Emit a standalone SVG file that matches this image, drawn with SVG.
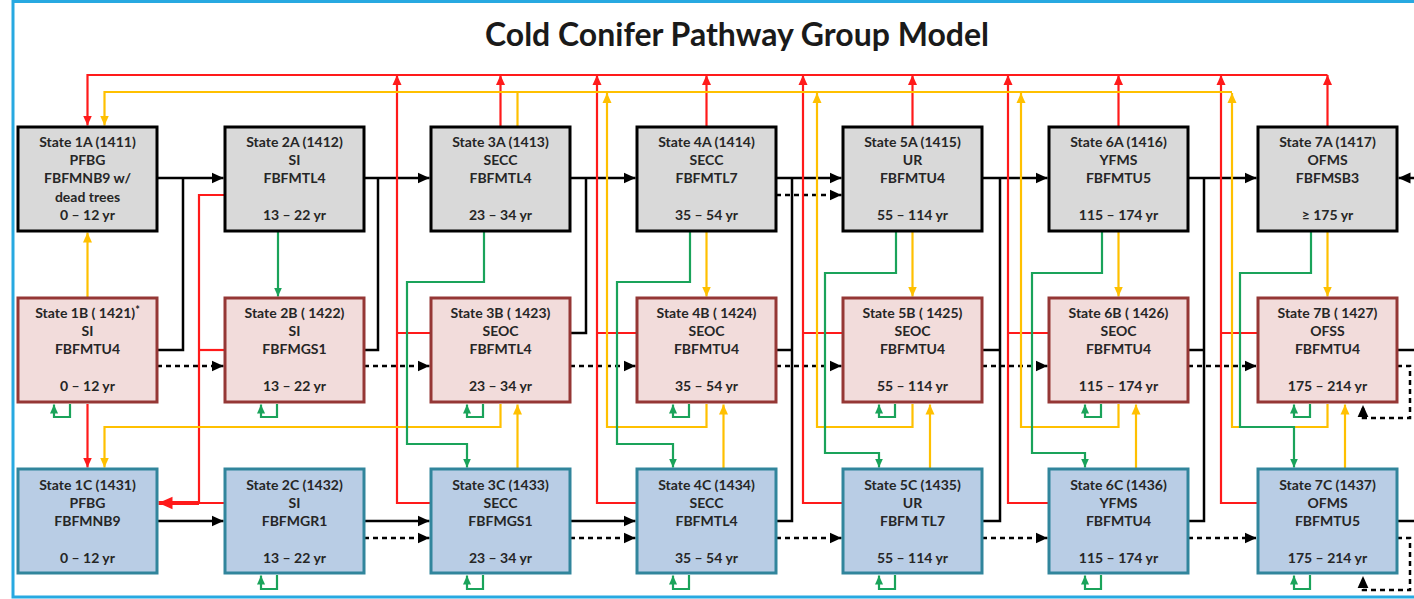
<svg xmlns="http://www.w3.org/2000/svg" width="1414" height="599" viewBox="0 0 1414 599">
  <style>
    .title { font-family: Lato, "Liberation Sans", sans-serif; font-weight: 700; font-size: 32px; fill: #1a1a1a; text-anchor: middle; }
    .t { font-family: Lato, "Liberation Sans", sans-serif; font-weight: 700; font-size: 14px; fill: #262626; text-anchor: middle; }
    .sup { font-size: 11px; }
    .boxA rect { fill: #d9d9d9; stroke: #000000; stroke-width: 3; }
    .boxB rect { fill: #f2dcdb; stroke: #953735; stroke-width: 3; }
    .boxC rect { fill: #b9cde5; stroke: #31859c; stroke-width: 3; }
    #connectors path { fill: none; stroke-linejoin: miter; }
    .k { stroke: #000000; stroke-width: 2.5; }
    .kd { stroke: #000000; stroke-width: 2.5; stroke-dasharray: 5 4; }
    .r { stroke: #ff1a1a; stroke-width: 2.2; }
    .rb { stroke: #ff1a1a; stroke-width: 4; }
    .y { stroke: #ffc000; stroke-width: 2.2; }
    .g { stroke: #1aa35a; stroke-width: 2.2; }
    .ak { marker-end: url(#ah-k); }
    .ar { marker-end: url(#ah-r); }
    .arb { marker-end: url(#ah-rb); }
    .ay { marker-end: url(#ah-y); }
    .ag { marker-end: url(#ah-g); }
  </style>
  <defs>
    <marker id="ah-k" viewBox="0 0 10 10" refX="10" refY="5" markerWidth="12" markerHeight="12" orient="auto" markerUnits="userSpaceOnUse">
      <path d="M0,0.5 L10,5 L0,9.5 z" fill="#000000"/>
    </marker>
    <marker id="ah-r" viewBox="0 0 10 10" refX="10" refY="5" markerWidth="10" markerHeight="10" orient="auto" markerUnits="userSpaceOnUse">
      <path d="M0,0.5 L10,5 L0,9.5 z" fill="#ff1a1a"/>
    </marker>
    <marker id="ah-rb" viewBox="0 0 10 10" refX="10" refY="5" markerWidth="14" markerHeight="14" orient="auto" markerUnits="userSpaceOnUse">
      <path d="M0,0.5 L10,5 L0,9.5 z" fill="#ff1a1a"/>
    </marker>
    <marker id="ah-y" viewBox="0 0 10 10" refX="10" refY="5" markerWidth="10" markerHeight="10" orient="auto" markerUnits="userSpaceOnUse">
      <path d="M0,0.5 L10,5 L0,9.5 z" fill="#ffc000"/>
    </marker>
    <marker id="ah-g" viewBox="0 0 10 10" refX="10" refY="5" markerWidth="9" markerHeight="9" orient="auto" markerUnits="userSpaceOnUse">
      <path d="M0,0.5 L10,5 L0,9.5 z" fill="#1aa35a"/>
    </marker>
  </defs>

  <rect x="0" y="0" width="1414" height="599" fill="#ffffff"/>
  <!-- outer frame -->
  <rect x="13" y="1.5" width="1420" height="595.5" fill="none" stroke="#27a9e1" stroke-width="3"/>

  <text class="title" x="737" y="46">Cold Conifer Pathway Group Model</text>

  <g id="connectors">
    <!-- succession: solid black -->
    <path class="k ak" d="M157,178 H223.5"/>
    <path class="k ak" d="M364,178 H429.5"/>
    <path class="k ak" d="M570,178 H635.5"/>
    <path class="k ak" d="M776,178 H841.5"/>
    <path class="k ak" d="M982,178 H1047.5"/>
    <path class="k ak" d="M1188,178 H1256.5"/>
    <path class="k ak" d="M1414,178 H1398.5"/>
    <path class="k" d="M157,350 H183 V178"/>
    <path class="k" d="M364,350 H378 V178"/>
    <path class="k" d="M570,333 H586 V178"/>
    <path class="k" d="M776,350 H792"/>
    <path class="k" d="M776,521 H792 V178"/>
    <path class="k" d="M982,350 H1000"/>
    <path class="k" d="M982,521 H1000 V178"/>
    <path class="k" d="M1188,350 H1204"/>
    <path class="k" d="M1188,521 H1204 V178"/>
    <path class="k" d="M1397,350 H1414"/>
    <path class="k" d="M1397,521 H1414"/>
    <path class="k ak" d="M157,521 H223.5"/>
    <path class="k ak" d="M364,521 H429.5"/>
    <path class="k ak" d="M570,521 H635.5"/>

    <!-- succession: dashed black -->
    <path class="kd ak" d="M776,195 H841.5"/>
    <path class="kd ak" d="M157,366 H223.5"/>
    <path class="kd ak" d="M364,366 H429.5"/>
    <path class="kd ak" d="M570,366 H635.5"/>
    <path class="kd ak" d="M776,366 H841.5"/>
    <path class="kd ak" d="M982,366 H1047.5"/>
    <path class="kd ak" d="M1188,366 H1256.5"/>
    <path class="kd ak" d="M1397,366 H1410 V418 H1363 V405"/>
    <path class="kd ak" d="M364,538 H429.5"/>
    <path class="kd ak" d="M570,538 H635.5"/>
    <path class="kd ak" d="M776,538 H841.5"/>
    <path class="kd ak" d="M982,538 H1047.5"/>
    <path class="kd ak" d="M1188,538 H1256.5"/>
    <path class="kd ak" d="M1397,538 H1410 V590 H1363 V576"/>

    <!-- red: bus to State 1A -->
    <path class="r ar" d="M1327.5,75 H87.5 V125.5"/>
    <path class="r ar" d="M500.5,127 V75"/>
    <path class="r ar" d="M706.5,127 V75"/>
    <path class="r ar" d="M912.5,127 V75"/>
    <path class="r ar" d="M1118.5,127 V75"/>
    <path class="r ar" d="M1327.5,127 V75"/>
    <path class="r ar" d="M431,503 H397 V75"/>
    <path class="r" d="M431,333 H397"/>
    <path class="r ar" d="M637,503 H597 V75"/>
    <path class="r" d="M637,333 H597"/>
    <path class="r ar" d="M843,503 H803 V75"/>
    <path class="r" d="M843,333 H803"/>
    <path class="r ar" d="M1049,503 H1008 V75"/>
    <path class="r" d="M1049,333 H1008"/>
    <path class="r ar" d="M1258,503 H1221 V75"/>
    <path class="r" d="M1258,333 H1221"/>
    <!-- red: column 2 and 1B to State 1C -->
    <path class="r" d="M225,195 H199 V503 H225"/>
    <path class="r" d="M225,350 H199"/>
    <path class="rb arb" d="M199,503 H158.5"/>
    <path class="r ar" d="M87.5,404 V467.5"/>

    <!-- yellow -->
    <path class="y ay" d="M1232,92 H104.5 V125.5"/>
    <path class="y" d="M517.5,127 V92"/>
    <path class="y ay" d="M706.5,404 V427 H607 V93"/>
    <path class="y ay" d="M912.5,404 V427 H817 V93"/>
    <path class="y ay" d="M1118.5,404 V427 H1021 V93"/>
    <path class="y ay" d="M1327.5,404 V427 H1232 V93"/>
    <path class="y ay" d="M500.5,404 V427 H104.5 V467.5"/>
    <path class="y ay" d="M87.5,298 V232.5"/>
    <path class="y ay" d="M706.5,231 V296.5"/>
    <path class="y ay" d="M912.5,231 V296.5"/>
    <path class="y ay" d="M1118.5,231 V296.5"/>
    <path class="y ay" d="M1327.5,231 V296.5"/>
    <path class="y ay" d="M517.5,469 V404.5"/>
    <path class="y ay" d="M723.5,469 V404.5"/>
    <path class="y ay" d="M930,469 V404.5"/>
    <path class="y ay" d="M1136,469 V404.5"/>
    <path class="y ay" d="M1345,469 V404.5"/>

    <!-- green -->
    <path class="g ag" d="M278,231 V296.5"/>
    <path class="g ag" d="M484,231 V282 H407 V444 H467 V467.5"/>
    <path class="g ag" d="M690,231 V282 H617 V444 H673 V467.5"/>
    <path class="g ag" d="M896,231 V273 H825 V453 H879 V467.5"/>
    <path class="g ag" d="M1102,231 V273 H1032 V453 H1085 V467.5"/>
    <path class="g ag" d="M1311,231 V273 H1240 V427 H1294 V467.5"/>
    <!-- green self-loops -->
    <path class="g ag" d="M70,404 V417 H54 V404.5"/>
    <path class="g ag" d="M277,404 V417 H261 V404.5"/>
    <path class="g ag" d="M483,404 V417 H467 V404.5"/>
    <path class="g ag" d="M689,404 V417 H673 V404.5"/>
    <path class="g ag" d="M895,404 V417 H879 V404.5"/>
    <path class="g ag" d="M1101,404 V417 H1085 V404.5"/>
    <path class="g ag" d="M1310,404 V417 H1294 V404.5"/>
    <path class="g ag" d="M277,575 V589 H261 V575.5"/>
    <path class="g ag" d="M483,575 V589 H467 V575.5"/>
    <path class="g ag" d="M689,575 V589 H673 V575.5"/>
    <path class="g ag" d="M895,575 V589 H879 V575.5"/>
    <path class="g ag" d="M1101,575 V589 H1085 V575.5"/>
    <path class="g ag" d="M1310,575 V589 H1294 V575.5"/>
  </g>

  <!-- row A -->
  <g id="s1A" class="boxA"><rect x="18" y="127" width="139" height="104"/>
    <text class="t" x="87.5" y="147">State 1A (1411)</text><text class="t" x="87.5" y="165">PFBG</text><text class="t" x="87.5" y="183">FBFMNB9 w/</text><text class="t" x="87.5" y="202">dead trees</text><text class="t" x="87.5" y="220">0 – 12 yr</text></g>
  <g id="s2A" class="boxA"><rect x="225" y="127" width="139" height="104"/>
    <text class="t" x="294.5" y="147">State 2A (1412)</text><text class="t" x="294.5" y="165">SI</text><text class="t" x="294.5" y="183">FBFMTL4</text><text class="t" x="294.5" y="220">13 – 22 yr</text></g>
  <g id="s3A" class="boxA"><rect x="431" y="127" width="139" height="104"/>
    <text class="t" x="500.5" y="147">State 3A (1413)</text><text class="t" x="500.5" y="165">SECC</text><text class="t" x="500.5" y="183">FBFMTL4</text><text class="t" x="500.5" y="220">23 – 34 yr</text></g>
  <g id="s4A" class="boxA"><rect x="637" y="127" width="139" height="104"/>
    <text class="t" x="706.5" y="147">State 4A (1414)</text><text class="t" x="706.5" y="165">SECC</text><text class="t" x="706.5" y="183">FBFMTL7</text><text class="t" x="706.5" y="220">35 – 54 yr</text></g>
  <g id="s5A" class="boxA"><rect x="843" y="127" width="139" height="104"/>
    <text class="t" x="912.5" y="147">State 5A (1415)</text><text class="t" x="912.5" y="165">UR</text><text class="t" x="912.5" y="183">FBFMTU4</text><text class="t" x="912.5" y="220">55 – 114 yr</text></g>
  <g id="s6A" class="boxA"><rect x="1049" y="127" width="139" height="104"/>
    <text class="t" x="1118.5" y="147">State 6A (1416)</text><text class="t" x="1118.5" y="165">YFMS</text><text class="t" x="1118.5" y="183">FBFMTU5</text><text class="t" x="1118.5" y="220">115 – 174 yr</text></g>
  <g id="s7A" class="boxA"><rect x="1258" y="127" width="139" height="104"/>
    <text class="t" x="1327.5" y="147">State 7A (1417)</text><text class="t" x="1327.5" y="165">OFMS</text><text class="t" x="1327.5" y="183">FBFMSB3</text><text class="t" x="1327.5" y="220">≥ 175 yr</text></g>

  <!-- row B -->
  <g id="s1B" class="boxB"><rect x="18" y="298" width="139" height="104"/>
    <text class="t" x="87.5" y="318">State 1B ( 1421)<tspan class="sup" dy="-4">*</tspan></text><text class="t" x="87.5" y="336">SI</text><text class="t" x="87.5" y="354">FBFMTU4</text><text class="t" x="87.5" y="391">0 – 12 yr</text></g>
  <g id="s2B" class="boxB"><rect x="225" y="298" width="139" height="104"/>
    <text class="t" x="294.5" y="318">State 2B ( 1422)</text><text class="t" x="294.5" y="336">SI</text><text class="t" x="294.5" y="354">FBFMGS1</text><text class="t" x="294.5" y="391">13 – 22 yr</text></g>
  <g id="s3B" class="boxB"><rect x="431" y="298" width="139" height="104"/>
    <text class="t" x="500.5" y="318">State 3B ( 1423)</text><text class="t" x="500.5" y="336">SEOC</text><text class="t" x="500.5" y="354">FBFMTL4</text><text class="t" x="500.5" y="391">23 – 34 yr</text></g>
  <g id="s4B" class="boxB"><rect x="637" y="298" width="139" height="104"/>
    <text class="t" x="706.5" y="318">State 4B ( 1424)</text><text class="t" x="706.5" y="336">SEOC</text><text class="t" x="706.5" y="354">FBFMTU4</text><text class="t" x="706.5" y="391">35 – 54 yr</text></g>
  <g id="s5B" class="boxB"><rect x="843" y="298" width="139" height="104"/>
    <text class="t" x="912.5" y="318">State 5B ( 1425)</text><text class="t" x="912.5" y="336">SEOC</text><text class="t" x="912.5" y="354">FBFMTU4</text><text class="t" x="912.5" y="391">55 – 114 yr</text></g>
  <g id="s6B" class="boxB"><rect x="1049" y="298" width="139" height="104"/>
    <text class="t" x="1118.5" y="318">State 6B ( 1426)</text><text class="t" x="1118.5" y="336">SEOC</text><text class="t" x="1118.5" y="354">FBFMTU4</text><text class="t" x="1118.5" y="391">115 – 174 yr</text></g>
  <g id="s7B" class="boxB"><rect x="1258" y="298" width="139" height="104"/>
    <text class="t" x="1327.5" y="318">State 7B ( 1427)</text><text class="t" x="1327.5" y="336">OFSS</text><text class="t" x="1327.5" y="354">FBFMTU4</text><text class="t" x="1327.5" y="391">175 – 214 yr</text></g>

  <!-- row C -->
  <g id="s1C" class="boxC"><rect x="18" y="469" width="139" height="104"/>
    <text class="t" x="87.5" y="490">State 1C (1431)</text><text class="t" x="87.5" y="508">PFBG</text><text class="t" x="87.5" y="526">FBFMNB9</text><text class="t" x="87.5" y="563">0 – 12 yr</text></g>
  <g id="s2C" class="boxC"><rect x="225" y="469" width="139" height="104"/>
    <text class="t" x="294.5" y="490">State 2C (1432)</text><text class="t" x="294.5" y="508">SI</text><text class="t" x="294.5" y="526">FBFMGR1</text><text class="t" x="294.5" y="563">13 – 22 yr</text></g>
  <g id="s3C" class="boxC"><rect x="431" y="469" width="139" height="104"/>
    <text class="t" x="500.5" y="490">State 3C (1433)</text><text class="t" x="500.5" y="508">SECC</text><text class="t" x="500.5" y="526">FBFMGS1</text><text class="t" x="500.5" y="563">23 – 34 yr</text></g>
  <g id="s4C" class="boxC"><rect x="637" y="469" width="139" height="104"/>
    <text class="t" x="706.5" y="490">State 4C (1434)</text><text class="t" x="706.5" y="508">SECC</text><text class="t" x="706.5" y="526">FBFMTL4</text><text class="t" x="706.5" y="563">35 – 54 yr</text></g>
  <g id="s5C" class="boxC"><rect x="843" y="469" width="139" height="104"/>
    <text class="t" x="912.5" y="490">State 5C (1435)</text><text class="t" x="912.5" y="508">UR</text><text class="t" x="912.5" y="526">FBFM TL7</text><text class="t" x="912.5" y="563">55 – 114 yr</text></g>
  <g id="s6C" class="boxC"><rect x="1049" y="469" width="139" height="104"/>
    <text class="t" x="1118.5" y="490">State 6C (1436)</text><text class="t" x="1118.5" y="508">YFMS</text><text class="t" x="1118.5" y="526">FBFMTU4</text><text class="t" x="1118.5" y="563">115 – 174 yr</text></g>
  <g id="s7C" class="boxC"><rect x="1258" y="469" width="139" height="104"/>
    <text class="t" x="1327.5" y="490">State 7C (1437)</text><text class="t" x="1327.5" y="508">OFMS</text><text class="t" x="1327.5" y="526">FBFMTU5</text><text class="t" x="1327.5" y="563">175 – 214 yr</text></g>
</svg>
